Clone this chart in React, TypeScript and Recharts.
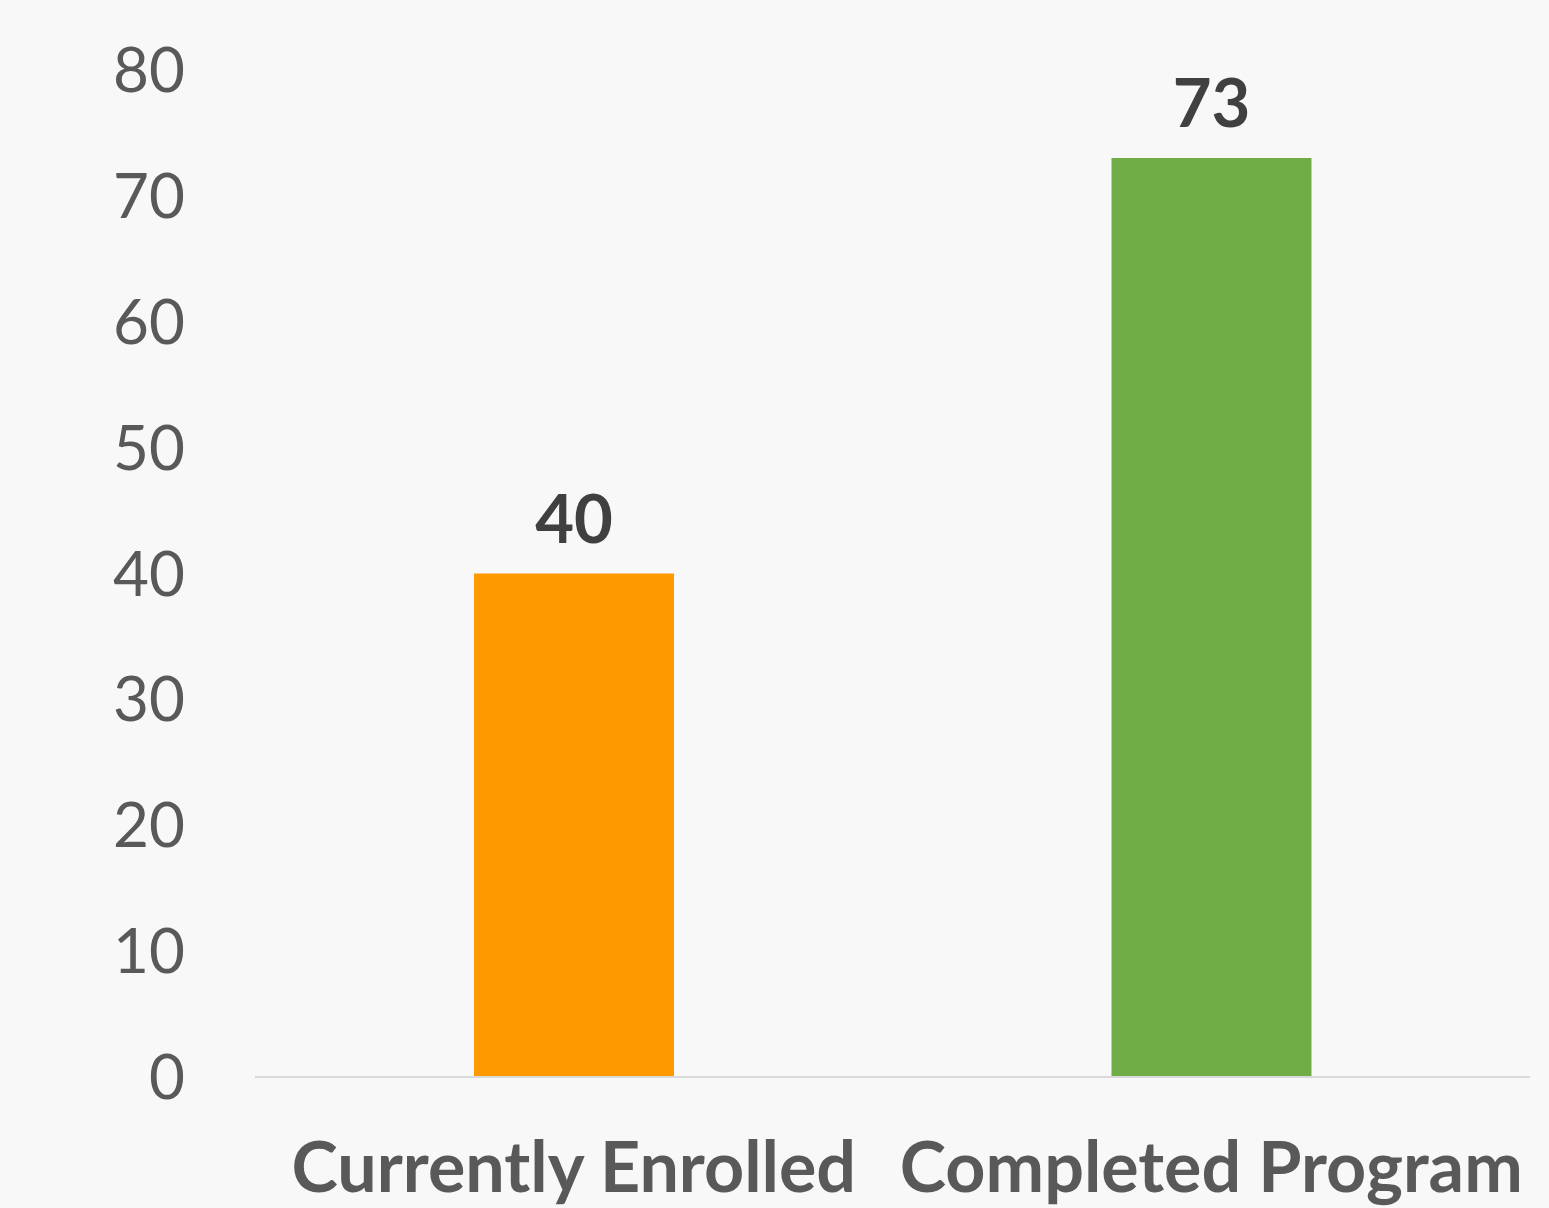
import React from "react"
import { Bar, BarChart, Cell, LabelList, XAxis, YAxis } from "recharts"

const categories = ["Currently Enrolled", "Completed Program"]
const values = [40, 73]
const barColors = ["#FF9900", "#70AD47"]
const yTicks = [0, 10, 20, 30, 40, 50, 60, 70, 80]

const data = categories.map((name, i) => ({ name, value: values[i] }))

export default function App() {
  return (
    <div
      style={{
        position: "absolute",
        left: 0,
        top: 0,
        width: 1549,
        height: 1208,
        background: "#f8f8f8",
        fontFamily: "Lato, sans-serif",
      }}
    >
      <BarChart
        width={1549}
        height={1208}
        data={data}
        margin={{ top: 70, right: 19, left: 0, bottom: 0 }}
        barCategoryGap={0}
      >
        <XAxis
          dataKey="name"
          height={131}
          axisLine={{ stroke: "#d9d9d9", strokeWidth: 2 }}
          tickLine={false}
          tickMargin={59}
          interval={0}
          tick={{ fill: "#595959", fontSize: 70, fontWeight: 700 }}
        />
        <YAxis
          width={255}
          domain={[0, 80]}
          ticks={yTicks}
          axisLine={false}
          tickLine={false}
          tickMargin={64}
          tick={{ fill: "#595959", fontSize: 62 }}
        />
        <Bar dataKey="value" barSize={200} isAnimationActive={false}>
          {data.map((d, i) => (
            <Cell key={d.name} fill={barColors[i]} />
          ))}
          <LabelList
            dataKey="value"
            position="top"
            offset={31}
            fill="#404040"
            fontSize={67}
            fontWeight={700}
          />
        </Bar>
      </BarChart>
    </div>
  )
}
